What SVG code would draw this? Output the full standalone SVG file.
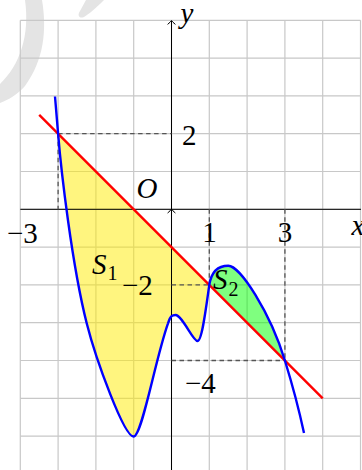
<svg xmlns="http://www.w3.org/2000/svg" width="362" height="470" viewBox="0 0 362 470">
<style>
.grid{stroke:#c8c8c8;stroke-width:1.2;fill:none}
.axis{stroke:#000;stroke-width:1;fill:none}
.dash{stroke:#555;stroke-width:1.3;stroke-dasharray:4.5 3.5;fill:none}
.lbl{font-family:"Liberation Serif","Times New Roman",serif;font-size:29px;fill:#000}
.it{font-style:italic}
.sub{font-size:20px}
.wm{fill:#e4e4e4}
</style>
<g id="watermark">
<path class="wm" d="M25,0 L42,0 C47,30 44,60 25,86 C17,95 8,100 0,103 L0,84 C20,65 30,35 25,0 Z"/>
<path class="wm" d="M86,0 L104,0 C95,9 89,14 84,17 C79,19 77,15 80,11 Z"/>
</g>
<g id="grid">
<path class="grid" d="M20.3,20.3V470M58.1,20.3V470M95.9,20.3V470M133.7,20.3V470M171.5,20.3V470M209.3,20.3V470M247.1,20.3V470M284.9,20.3V470M322.7,20.3V470M360.5,20.3V470"/>
<path class="grid" d="M20.3,20.3H360.5M20.3,58.1H360.5M20.3,95.9H360.5M20.3,133.7H360.5M20.3,171.5H360.5M20.3,209.3H360.5M20.3,247.1H360.5M20.3,284.9H360.5M20.3,322.7H360.5M20.3,360.5H360.5M20.3,398.3H360.5M20.3,436.1H360.5"/>
</g>
<g id="S1-region">
<path fill="#ffeb00" fill-opacity="0.5" d="M58.1,133.7 C61,170 72,265 86.7,323.3 C96,360 124,436.5 133.5,436.5 C142,436.5 155,360 168,323.3 C170.5,315.5 172.5,315 175.5,315 C182,315 193,341 197.5,341 C202,341 206,308 209.3,284.9 Z"/>
</g>
<g id="S2-region">
<path fill="#00ff00" fill-opacity="0.5" d="M209.3,284.9 C211.3,271.7 218,265.7 228.3,265.7 C240,265.7 270,312 284.9,360.5 Z"/>
</g>
<g id="axes">
<path class="axis" d="M20.3,209.3H361"/>
<path class="axis" d="M171.5,470V20.8"/>
<path class="axis" d="M167.6,24.4 Q170.5,22 171.5,20.6 Q172.5,22 175.4,24.4"/>
<path class="axis" d="M167.6,213 Q170.5,210.6 171.5,209.2 Q172.5,210.6 175.4,213"/>
</g>
<g id="connectors">
<path class="dash" d="M58.1,133.7H171.5M58.1,133.7V209.3"/>
<path class="dash" d="M171.5,284.9H209.3M209.3,209.3V284.9"/>
<path class="dash" d="M171.5,360.5H284.9M284.9,209.3V360.5"/>
<path d="M39.2,114.8 L322.7,398.3" stroke="#ff0000" stroke-width="2.4" fill="none"/>
<path d="M55,96.5 L58.1,133.7 C61,170 72,265 86.7,323.3 C96,360 124,436.5 133.5,436.5 C142,436.5 155,360 168,323.3 C170.5,315.5 172.5,315 175.5,315 C182,315 193,341 197.5,341 C202,341 206,308 209.3,284.9 C211.3,271.7 218,265.7 228.3,265.7 C240,265.7 270,312 284.9,360.5 C290,377 298,405 304,433" stroke="#0000ff" stroke-width="2.4" fill="none" stroke-linejoin="round"/>
</g>
<g id="labels">
<text class="lbl it" x="180.5" y="23">y</text>
<text class="lbl it" x="351.5" y="235">x</text>
<text class="lbl it" x="136.5" y="198">O</text>
<text class="lbl" x="182" y="145">2</text>
<text class="lbl" x="7" y="242.5">−3</text>
<text class="lbl" x="209.5" y="242" text-anchor="middle">1</text>
<text class="lbl" x="285" y="242" text-anchor="middle">3</text>
<text class="lbl" x="122" y="295">−2</text>
<text class="lbl" x="185" y="393">−4</text>
<text class="lbl it" x="92" y="273.5">S<tspan class="sub" font-style="normal" dx="1" dy="6.5">1</tspan></text>
<text class="lbl it" x="213" y="289">S<tspan class="sub" font-style="normal" dx="1" dy="7">2</tspan></text>
</g>
</svg>
